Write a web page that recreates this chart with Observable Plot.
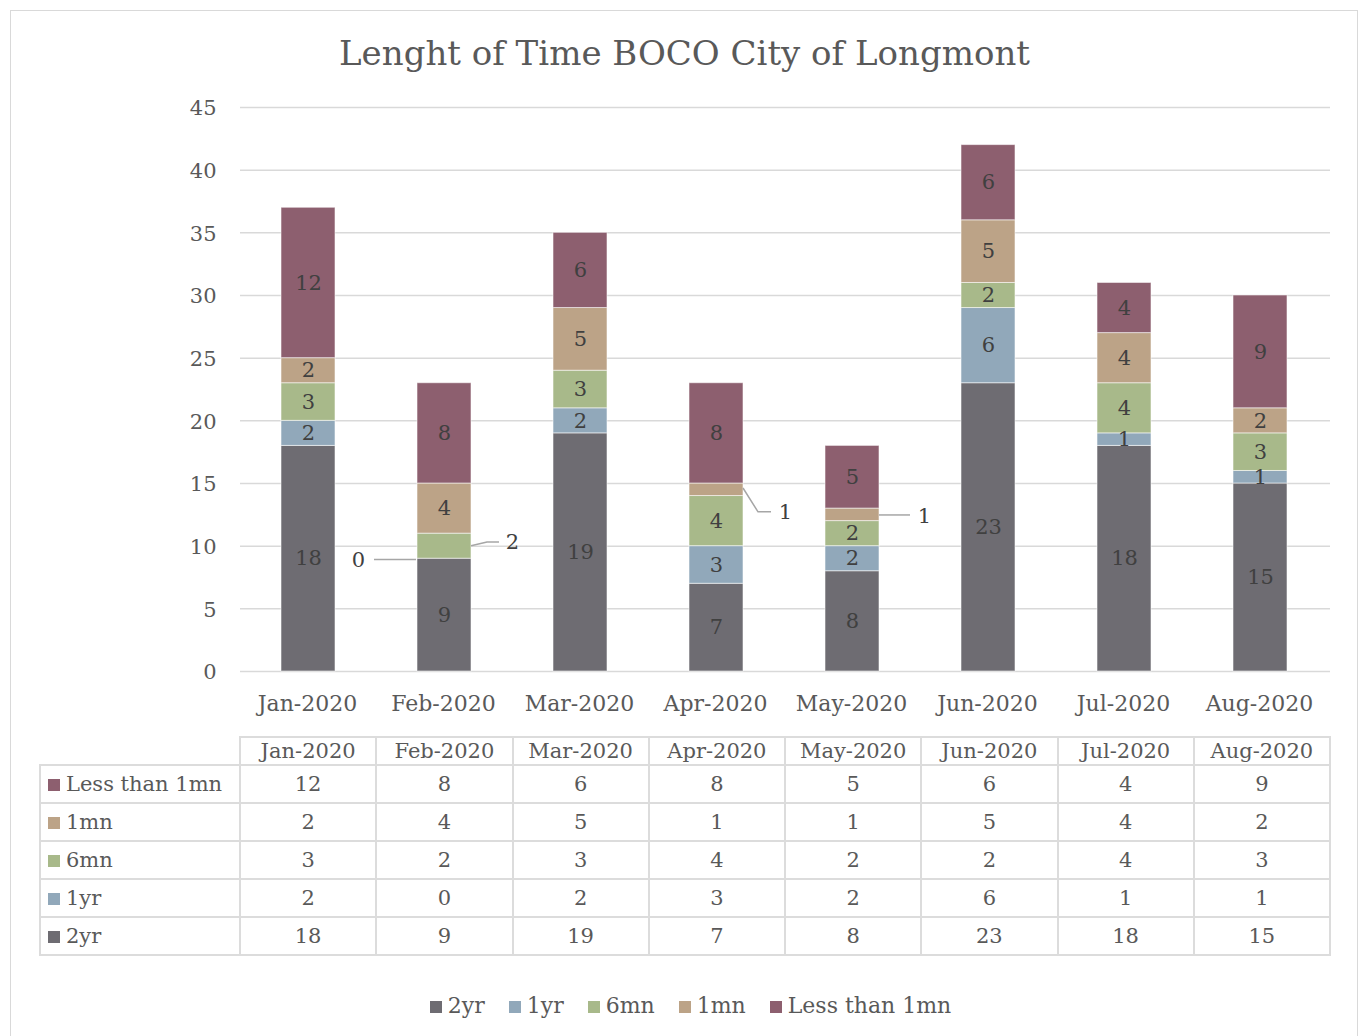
<!DOCTYPE html>
<html>
<head>
<meta charset="utf-8">
<script src="https://cdn.jsdelivr.net/npm/d3@7"></script>
<script src="https://cdn.jsdelivr.net/npm/@observablehq/plot@0.6"></script>
<style>
  html, body { margin: 0; padding: 0; background: #fff; }
  #wrap { position: relative; width: 1361px; height: 1036px; overflow: hidden; font-family: "DejaVu Serif", serif; color: #595959; }
  #frame { position: absolute; left: 10px; top: 10px; width: 1348px; height: 1060px; border: 1px solid #d9d9d9; box-sizing: border-box; }
  #title { position: absolute; left: 0; width: 1361px; top: 29px; text-align: center; font-size: 34px; line-height: 48px; color: #595959; padding-left: 8px; box-sizing: border-box; }
  #chart { position: absolute; left: 0; top: 80px; }
  #table { position: absolute; left: 39px; top: 736px; border-collapse: collapse; table-layout: fixed; font-size: 21px; color: #595959; }
  #table td { border: 2px solid #dcdcdc; text-align: center; padding: 0; white-space: nowrap; }
  #table tr.head td { height: 26px; line-height: 26px; }
  #table tr.body td { height: 36px; line-height: 36px; }
  #table td.rowlabel { text-align: left; padding-left: 7px; }
  #table td.corner { border-top: none; border-left: none; }
  .sw { display: inline-block; width: 12px; height: 12px; margin-right: 6px; vertical-align: 0px; }
  #legend { position: absolute; left: 0; width: 1361px; top: 993px; display: flex; justify-content: center; font-size: 22px; color: #595959; padding-left: 20px; box-sizing: border-box; }
  #legend .item { margin: 0 12px; white-space: nowrap; }
</style>
</head>
<body>
<div id="wrap">
  <div id="frame"></div>
  <div id="title"></div>
  <div id="chart"></div>
  <table id="table"></table>
  <div id="legend"></div>
</div>
<script>
// ---- data ----
const title = "Lenght of Time BOCO City of Longmont";
const months = ["Jan-2020", "Feb-2020", "Mar-2020", "Apr-2020", "May-2020", "Jun-2020", "Jul-2020", "Aug-2020"];
const seriesNames = ["2yr", "1yr", "6mn", "1mn", "Less than 1mn"];
const seriesColors = ["#6e6c72", "#91a8ba", "#a8b98a", "#bca387", "#8d5f6f"];
const yTicks = [0, 5, 10, 15, 20, 25, 30, 35, 40, 45];

const v2yr       = [18, 9, 19, 7, 8, 23, 18, 15];
const v1yr       = [2, 0, 2, 3, 2, 6, 1, 1];
const v6mn       = [3, 2, 3, 4, 2, 2, 4, 3];
const v1mn       = [2, 4, 5, 1, 1, 5, 4, 2];
const vLess1mn   = [12, 8, 6, 8, 5, 6, 4, 9];
const seriesValues = [v2yr, v1yr, v6mn, v1mn, vLess1mn];

// data labels placed outside the bar with a leader line (Excel-style)
const callouts = [
  {month: "Feb-2020", series: "1yr", labelY: 8.9,  dx: -86, path: [[-28, 8.9], [-70, 8.9]]},
  {month: "Feb-2020", series: "6mn", labelY: 10.3, dx: 68,  path: [[27, 10], [43, 10.3], [55, 10.3]]},
  {month: "Apr-2020", series: "1mn", labelY: 12.7, dx: 69,  path: [[27, 14.6], [42, 12.7], [55, 12.7]]},
  {month: "May-2020", series: "1mn", labelY: 12.4, dx: 72,  path: [[27, 12.45], [58, 12.45]]}
];

// ---- build table ----
const data = [];
seriesNames.forEach((s, si) => months.forEach((m, mi) => data.push({month: m, series: s, value: seriesValues[si][mi]})));
const isCallout = d => callouts.some(c => c.month === d.month && c.series === d.series);
const calloutData = callouts.map(c => ({...c, value: data.find(d => d.month === c.month && d.series === c.series).value}));

document.getElementById("title").textContent = title;

function leaders(index, scales) {
  const {x, y} = scales;
  const bw = x.bandwidth ? x.bandwidth() : 0;
  const g = d3.create("svg:g").attr("fill", "none").attr("stroke", "#a6a6a6").attr("stroke-width", 1.5);
  for (const c of callouts) {
    const cx = x(c.month) + bw / 2 - 1;
    g.append("path").attr("d", d3.line()(c.path.map(([dx, v]) => [cx + dx, y(v)])));
  }
  return g.node();
}

const chart = Plot.plot({
  width: 1361,
  height: 650,
  marginTop: 27,
  marginBottom: 59,
  marginLeft: 240,
  marginRight: 31,
  style: {fontFamily: "DejaVu Serif", fontSize: "21px", color: "#595959", background: "transparent", overflow: "visible"},
  x: {domain: months, padding: 0},
  y: {domain: [0, 45]},
  color: {domain: seriesNames, range: seriesColors},
  marks: [
    Plot.gridY(yTicks, {stroke: "#d9d9d9", strokeOpacity: 1, strokeWidth: 1.5}),
    Plot.axisY(yTicks, {tickSize: 0, tickPadding: 24, label: null, fill: "#595959", dy: 1}),
    Plot.axisX({tickSize: 0, tickPadding: 24, label: null, fill: "#595959", fontSize: 22, dx: -2}),
    Plot.barY(data, Plot.stackY({
      x: "month", y: "value", z: "series", order: seriesNames,
      fill: "series", insetLeft: 40, insetRight: 42,
      stroke: "#ffffff", strokeOpacity: 0.55, strokeWidth: 1
    })),
    Plot.text(data, Plot.stackY({
      x: "month", y: "value", z: "series", order: seriesNames,
      text: d => isCallout(d) ? "" : String(d.value),
      fill: "#404040", fontSize: 21, dx: -1
    })),
    leaders,
    ...calloutData.map(c => Plot.text([c], {x: "month", y: "labelY", dx: c.dx - 1, text: d => String(d.value), fill: "#404040", fontSize: 21}))
  ]
});
document.getElementById("chart").appendChild(chart);

// ---- data table (Excel "data table" under the chart) ----
const table = document.getElementById("table");
const colgroup = document.createElement("colgroup");
colgroup.innerHTML = `<col style="width:200px">` + months.map(() => `<col style="width:136.25px">`).join("");
table.appendChild(colgroup);
table.style.width = (200 + 136.25 * months.length) + "px";
const head = document.createElement("tr");
head.className = "head";
head.innerHTML = `<td class="corner"></td>` + months.map(m => `<td>${m}</td>`).join("");
table.appendChild(head);
[...seriesNames.keys()].reverse().forEach(si => {
  const tr = document.createElement("tr");
  tr.className = "body";
  tr.innerHTML = `<td class="rowlabel"><span class="sw" style="background:${seriesColors[si]}"></span>${seriesNames[si]}</td>` +
    seriesValues[si].map(v => `<td>${v}</td>`).join("");
  table.appendChild(tr);
});

// ---- legend ----
const legend = document.getElementById("legend");
seriesNames.forEach((s, si) => {
  const it = document.createElement("span");
  it.className = "item";
  it.innerHTML = `<span class="sw" style="background:${seriesColors[si]}"></span>${s}`;
  legend.appendChild(it);
});
</script>
</body>
</html>
